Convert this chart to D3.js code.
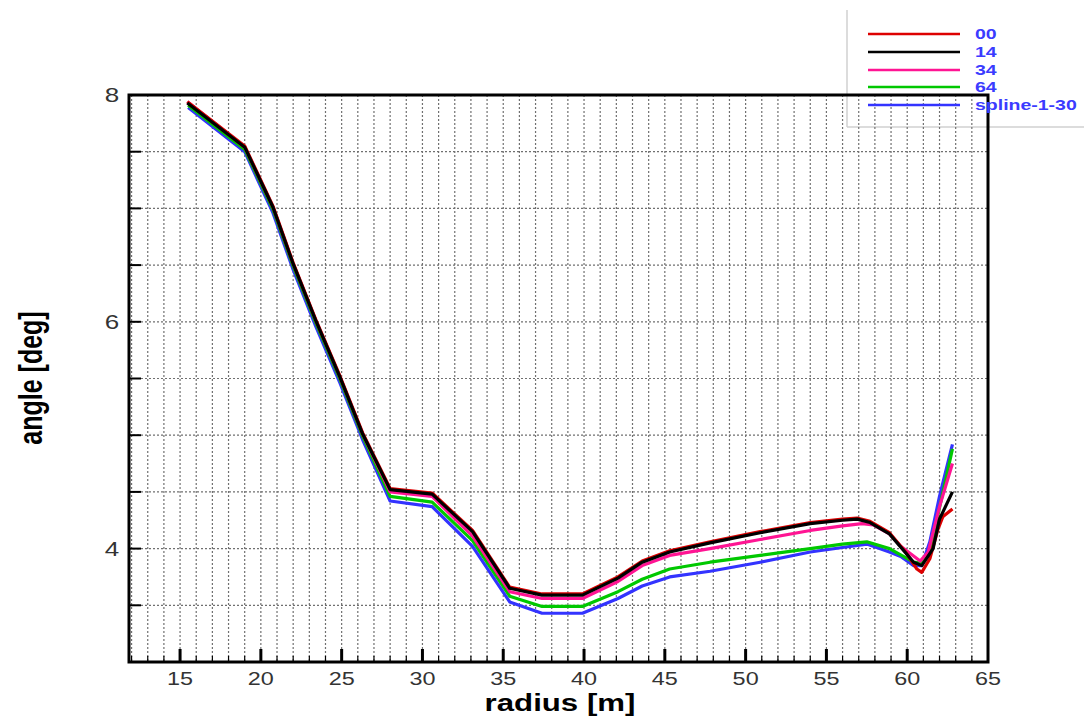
<!DOCTYPE html>
<html>
<head>
<meta charset="utf-8">
<script src="https://cdn.jsdelivr.net/npm/d3@7"></script>
<style>
body { margin: 0; background: #fff; }
svg { display: block; }
</style>
</head>
<body>
<script>
// radius [m], angle [deg]
var s00 = [[15.45,7.94],[19.0,7.55],[20.75,7.02],[22.0,6.52],[23.4,6.02],[24.9,5.52],[26.3,5.02],[28.0,4.53],
  [30.6,4.49],[33.1,4.16],[35.4,3.66],[37.4,3.60],[39.9,3.60],[42.1,3.75],[43.6,3.89],[45.3,3.98],[47.8,4.06],
  [50.9,4.15],[54.0,4.23],[56.0,4.26],[56.9,4.27],[57.7,4.24],[58.9,4.14],[59.9,3.97],[60.6,3.82],[60.9,3.79],
  [61.4,3.91],[61.9,4.17],[62.2,4.28],[62.8,4.35]];
var s14 = [[15.45,7.93],[19.0,7.54],[20.75,7.01],[22.0,6.51],[23.4,6.01],[24.9,5.51],[26.3,5.01],[28.0,4.52],
  [30.6,4.48],[33.1,4.15],[35.4,3.65],[37.4,3.59],[39.9,3.59],[42.1,3.74],[43.6,3.88],[45.3,3.97],[47.8,4.05],
  [50.9,4.14],[54.0,4.22],[56.0,4.25],[56.9,4.26],[57.7,4.23],[58.9,4.13],[60.4,3.88],[60.9,3.85],[61.6,4.00],
  [62.0,4.26],[62.8,4.50]];
var s34 = [[15.45,7.94],[19.0,7.54],[20.75,7.01],[22.0,6.51],[23.4,6.01],[24.9,5.51],[26.3,5.01],[28.0,4.50],
  [30.6,4.46],[33.1,4.11],[35.4,3.62],[37.4,3.56],[39.9,3.56],[42.1,3.71],[43.6,3.85],[45.3,3.94],[47.8,4.00],
  [50.9,4.08],[54.0,4.16],[56.0,4.20],[57.2,4.22],[57.9,4.21],[58.9,4.13],[59.6,4.02],[60.8,3.89],[61.3,3.97],
  [62.0,4.37],[62.8,4.75]];
var s64 = [[15.5,7.91],[19.0,7.52],[20.75,6.99],[22.0,6.49],[23.4,5.99],[24.9,5.49],[26.3,4.99],[28.0,4.46],
  [30.6,4.41],[33.1,4.07],[35.4,3.58],[37.4,3.49],[39.9,3.49],[42.1,3.62],[43.6,3.73],[45.3,3.82],[47.8,3.88],
  [50.9,3.94],[54.0,4.00],[56.0,4.04],[57.5,4.06],[58.9,4.00],[60.4,3.88],[60.9,3.87],[61.4,3.96],[62.0,4.36],
  [62.8,4.88]];
var spline = [[15.5,7.89],[19.0,7.50],[20.75,6.96],[22.0,6.46],[23.4,5.96],[24.9,5.46],[26.3,4.96],[28.0,4.42],
  [30.6,4.37],[33.1,4.02],[35.4,3.53],[37.4,3.43],[39.9,3.43],[42.1,3.56],[43.6,3.67],[45.3,3.75],[47.8,3.80],
  [50.9,3.88],[54.0,3.97],[56.0,4.01],[57.5,4.04],[58.9,3.97],[59.6,3.93],[60.4,3.85],[60.9,3.85],[61.4,4.06],
  [62.0,4.46],[62.8,4.92]];

var seriesNames = ["00", "14", "34", "64", "spline-1-30"];
var seriesData = [s00, s14, s34, s64, spline];
var seriesColors = ["#dd0000", "#000000", "#ff1493", "#00c800", "#3333ff"];
var drawOrder = [4, 3, 2, 0, 1];

var xLabels = [15, 20, 25, 30, 35, 40, 45, 50, 55, 60, 65];
var yLabels = [4, 6, 8];

var W = 1084, H = 717;
var x = d3.scaleLinear().domain([11.84, 65]).range([129, 988]);
var y = d3.scaleLinear().domain([3, 8]).range([662, 95]);
var sx = 1.3; // text in the picture is stretched sideways

var svg = d3.select("body").append("svg").attr("width", W).attr("height", H);

function stretchedText(g, tx, ty, str, size, weight, fill, anchor, rot) {
    return g.append("text")
        .attr("transform", "translate(" + tx + "," + ty + ") scale(" + sx + ",1)" + (rot ? " rotate(" + rot + ")" : ""))
        .attr("text-anchor", anchor || "middle")
        .style("font-family", "'Liberation Sans', Arial, sans-serif")
        .style("font-size", size + "px")
        .style("font-weight", weight)
        .style("fill", fill)
        .text(str);
}

// legend frame (behind the plot)
svg.append("line").attr("x1", 847).attr("x2", 847).attr("y1", 10).attr("y2", 127)
    .style("stroke", "#d0d0d0").style("stroke-width", 1.5);
svg.append("line").attr("x1", 847).attr("x2", W).attr("y1", 127).attr("y2", 127)
    .style("stroke", "#d0d0d0").style("stroke-width", 1.5);

// grid
var grid = svg.append("g");
grid.selectAll(".vg").data(d3.range(12, 65, 1)).enter().append("line")
    .attr("x1", function(d){ return x(d); }).attr("x2", function(d){ return x(d); })
    .attr("y1", y(8)).attr("y2", y(3))
    .style("stroke", "#707070").style("stroke-width", 1.2).style("stroke-dasharray", "2,2");
grid.selectAll(".hg").data(d3.range(3.5, 8, 0.5)).enter().append("line")
    .attr("x1", x(11.84)).attr("x2", x(65))
    .attr("y1", function(d){ return y(d); }).attr("y2", function(d){ return y(d); })
    .style("stroke", "#707070").style("stroke-width", 1.2).style("stroke-dasharray", "2,2");

// ticks
var ticks = svg.append("g").style("stroke", "#000");
ticks.selectAll(".xm").data(d3.range(12, 65, 1)).enter().append("line")
    .attr("x1", function(d){ return x(d); }).attr("x2", function(d){ return x(d); })
    .attr("y1", y(3)).attr("y2", function(d){ return d % 5 === 0 ? y(3) - 13 : y(3) - 6; })
    .style("stroke-width", function(d){ return d % 5 === 0 ? 3 : 1.2; });
ticks.selectAll(".yt").data(d3.range(3.5, 8, 0.5)).enter().append("line")
    .attr("x1", x(11.84)).attr("x2", x(11.84) + 12)
    .attr("y1", function(d){ return y(d); }).attr("y2", function(d){ return y(d); })
    .style("stroke-width", 2);

// curves
var line = d3.line().x(function(d){ return x(d[0]); }).y(function(d){ return y(d[1]); });
drawOrder.forEach(function(i){
    svg.append("path").datum(seriesData[i])
        .attr("d", line)
        .style("fill", "none")
        .style("stroke", seriesColors[i])
        .style("stroke-width", 3.2)
        .style("stroke-linejoin", "round");
});

// frame
svg.append("rect").attr("x", x(11.84)).attr("y", y(8))
    .attr("width", x(65) - x(11.84)).attr("height", y(3) - y(8))
    .style("fill", "none").style("stroke", "#000").style("stroke-width", 3);

// tick labels
var labels = svg.append("g");
xLabels.forEach(function(v){
    stretchedText(labels, x(v), 685, v, 18, "normal", "#333");
});
yLabels.forEach(function(v){
    stretchedText(labels, 112, y(v) + 7, v, 20, "normal", "#333");
});

// axis titles
stretchedText(svg, 560, 711, "radius [m]", 24, "bold", "#000");
stretchedText(svg, 42, 378, "angle [deg]", 25, "bold", "#000", "middle", -90);

// legend entries
var legendY = [34, 52, 70, 87, 105];
seriesNames.forEach(function(name, i){
    svg.append("line").attr("x1", 868).attr("x2", 960)
        .attr("y1", legendY[i]).attr("y2", legendY[i])
        .style("stroke", seriesColors[i]).style("stroke-width", 2.5);
    stretchedText(svg, 975, legendY[i] + 5, name, 15, "bold", "#3b3bff", "start");
});
</script>
</body>
</html>
